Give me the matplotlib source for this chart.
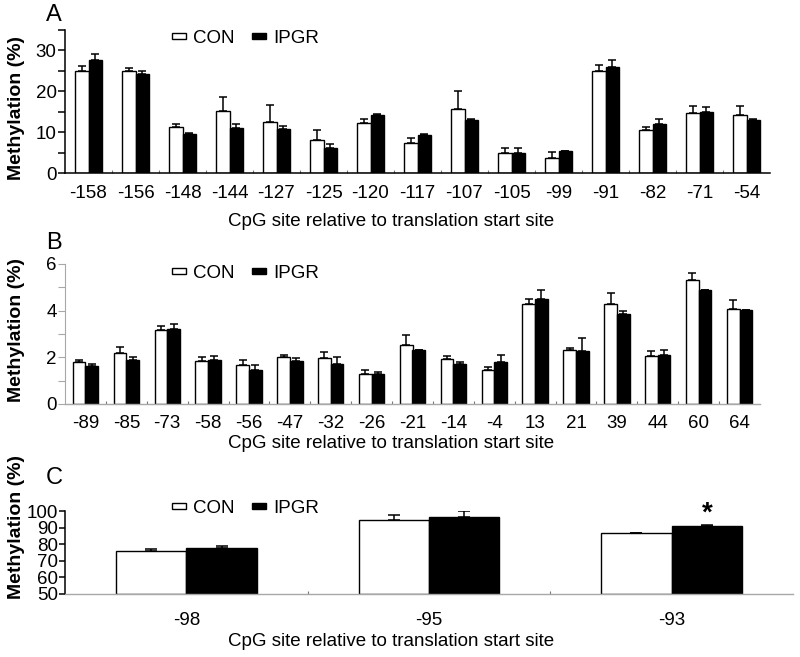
import matplotlib
matplotlib.use("Agg")
import matplotlib.pyplot as plt
import numpy as np
from matplotlib.patches import Patch, Rectangle
from matplotlib.legend_handler import HandlerPatch

plt.rcParams['font.family'] = ['Liberation Sans', 'DejaVu Sans']

# ---------------- data ----------------
sites_a = ["-158", "-156", "-148", "-144", "-127", "-125", "-120", "-117",
           "-107", "-105", "-99", "-91", "-82", "-71", "-54"]
con_a = [25.0, 24.9, 11.2, 15.2, 12.5, 8.1, 12.3, 7.3, 15.7, 4.9, 3.6, 25.0, 10.5, 14.8, 14.3]
con_a_err = [1.2, 0.9, 0.7, 3.3, 4.1, 2.4, 0.8, 1.2, 4.3, 1.2, 1.6, 1.5, 0.7, 1.5, 2.2]
ipgr_a = [27.7, 24.2, 9.5, 11.1, 10.7, 6.1, 14.3, 9.4, 12.9, 4.9, 5.4, 25.9, 12.0, 15.0, 12.9]
ipgr_a_err = [1.5, 0.7, 0.2, 0.8, 0.9, 1.0, 0.2, 0.2, 0.4, 1.2, 0.1, 1.7, 1.2, 1.1, 0.4]

sites_b = ["-89", "-85", "-73", "-58", "-56", "-47", "-32", "-26", "-21",
           "-14", "-4", "13", "21", "39", "44", "60", "64"]
con_b = [1.78, 2.20, 3.18, 1.83, 1.66, 2.00, 1.99, 1.28, 2.55, 1.92, 1.46, 4.27, 2.32, 4.28, 2.06, 5.33, 4.07]
con_b_err = [0.11, 0.24, 0.17, 0.19, 0.24, 0.12, 0.26, 0.18, 0.39, 0.14, 0.14, 0.23, 0.09, 0.46, 0.23, 0.29, 0.37]
ipgr_b = [1.63, 1.89, 3.21, 1.88, 1.45, 1.85, 1.72, 1.29, 2.32, 1.73, 1.79, 4.51, 2.26, 3.84, 2.10, 4.89, 4.03]
ipgr_b_err = [0.10, 0.14, 0.24, 0.18, 0.21, 0.14, 0.30, 0.09, 0.0, 0.07, 0.32, 0.36, 0.55, 0.14, 0.22, 0.0, 0.0]

sites_c = ["-98", "-95", "-93"]
con_c = [76.0, 94.8, 86.8]
con_c_err = [1.2, 3.0, 0.2]
ipgr_c = [78.0, 96.6, 90.8]
ipgr_c_err = [1.2, 3.4, 1.0]

xlabel = "CpG site relative to translation start site"
ylabel = "Methylation (%)"

# ---------------- figure ----------------
fig = plt.figure(figsize=(8.0, 6.57), dpi=100)

def px(x0, y0, x1, y1):
    W, H = 800.0, 657.0
    return [x0 / W, 1 - y1 / H, (x1 - x0) / W, (y1 - y0) / H]

axA = fig.add_axes(px(65, 30, 770, 173))
axB = fig.add_axes(px(65, 264, 760, 404))
axC = fig.add_axes(px(65, 511, 793, 594))

GREY = "#a8a8a8"

def draw(ax, labels, con, con_err, ipgr, ipgr_err, width, capsize, xpad):
    n = len(labels)
    x = np.arange(n)
    ax.bar(x - width / 2, con, width, bottom=0, color="white", edgecolor="black",
           linewidth=1.0, zorder=2)
    ax.bar(x + width / 2, ipgr, width, color="black", edgecolor="black",
           linewidth=1.0, zorder=2)
    ax.errorbar(x - width / 2, con, yerr=[np.zeros(n), con_err], fmt="none",
                ecolor="black", elinewidth=1.1, capsize=capsize, capthick=1.1, zorder=3)
    ax.errorbar(x + width / 2, ipgr, yerr=[np.zeros(n), ipgr_err], fmt="none",
                ecolor="black", elinewidth=1.1, capsize=capsize, capthick=1.1, zorder=3)
    ax.set_xlim(-0.5, n - 0.5)
    ax.set_xticks(x)
    ax.set_xticklabels(labels, fontsize=13.5)
    ax.set_xticks(np.arange(n - 1) + 0.5, minor=True)
    ax.tick_params(axis="x", which="major", length=0, pad=xpad)
    ax.tick_params(axis="x", which="minor", length=2, direction="in", width=0.8,
                   color="#777777")
    ax.spines["top"].set_visible(False)
    ax.spines["right"].set_visible(False)
    return x

def thin_rect(legend, orig_handle, xdescent, ydescent, width, height, fontsize):
    h = 4.0
    return Rectangle((-xdescent, -ydescent + height / 2 - h / 2), width, h)

def legend(ax, ytop):
    handles = [Patch(facecolor="white", edgecolor="black", linewidth=1.0, label="CON"),
               Patch(facecolor="black", edgecolor="black", linewidth=1.0, label="IPGR")]
    ax.legend(handles=handles, loc="center left", ncol=2, frameon=False,
              fontsize=13.5, handlelength=0.72, handletextpad=0.4,
              columnspacing=0.95, borderpad=0, borderaxespad=0,
              handler_map={Patch: HandlerPatch(patch_func=thin_rect)},
              bbox_to_anchor=(172 / 800, 1 - ytop / 657), bbox_transform=fig.transFigure)

# Panel A
draw(axA, sites_a, con_a, con_a_err, ipgr_a, ipgr_a_err, 0.29, 3, 9)
axA.set_ylim(0, 35)
axA.set_yticks([0, 10, 20, 30])
axA.set_yticks([5, 15, 25, 35], minor=True)
axA.tick_params(axis="y", which="both", length=5, width=1.1, pad=1, labelsize=13.5)
axA.spines["left"].set_linewidth(1.1)
axA.spines["bottom"].set_linewidth(1.1)
legend(axA, 38)

# Panel B
draw(axB, sites_b, con_b, con_b_err, ipgr_b, ipgr_b_err, 0.31, 3, 8)
axB.set_ylim(0, 6)
axB.set_yticks([0, 2, 4, 6])
axB.set_yticks([1, 3, 5], minor=True)
axB.tick_params(axis="y", which="both", length=5, width=0.8, pad=1, labelsize=13.5,
                color=GREY)
axB.spines["left"].set_color(GREY)
axB.spines["left"].set_linewidth(0.8)
axB.spines["bottom"].set_color(GREY)
axB.spines["bottom"].set_linewidth(1.0)
legend(axB, 273)

# Panel C
xc = draw(axC, sites_c, con_c, con_c_err, ipgr_c, ipgr_c_err, 0.29, 4.5, 13)
axC.set_ylim(50, 100)
axC.set_yticks([50, 60, 70, 80, 90, 100])
axC.tick_params(axis="y", which="both", length=4, width=1.1, pad=1, labelsize=13.5)
axC.spines["left"].set_linewidth(1.1)
axC.spines["bottom"].set_color(GREY)
axC.spines["bottom"].set_linewidth(1.0)
for b in axC.patches:
    b.set_y(50)
    b.set_height(b.get_height() - 50)
legend(axC, 508)
axC.text(xc[2] + 0.29 / 2, ipgr_c[2] + ipgr_c_err[2] - 1.5, "*", ha="center",
         va="bottom", fontsize=20, fontweight="bold")

# Labels
for yc in (221, 444, 642):
    fig.text(391 / 800, 1 - yc / 657, xlabel, ha="center", va="center", fontsize=13.5)
for yc in (108, 330, 527):
    fig.text(17 / 800, 1 - yc / 657, ylabel, ha="center", va="center", rotation=90,
             fontsize=14, fontweight="bold")
for letter, yc in (("A", 15), ("B", 243), ("C", 478)):
    fig.text(54 / 800, 1 - yc / 657, letter, ha="center", va="center", fontsize=17)

fig.savefig("out.png", dpi=100)
